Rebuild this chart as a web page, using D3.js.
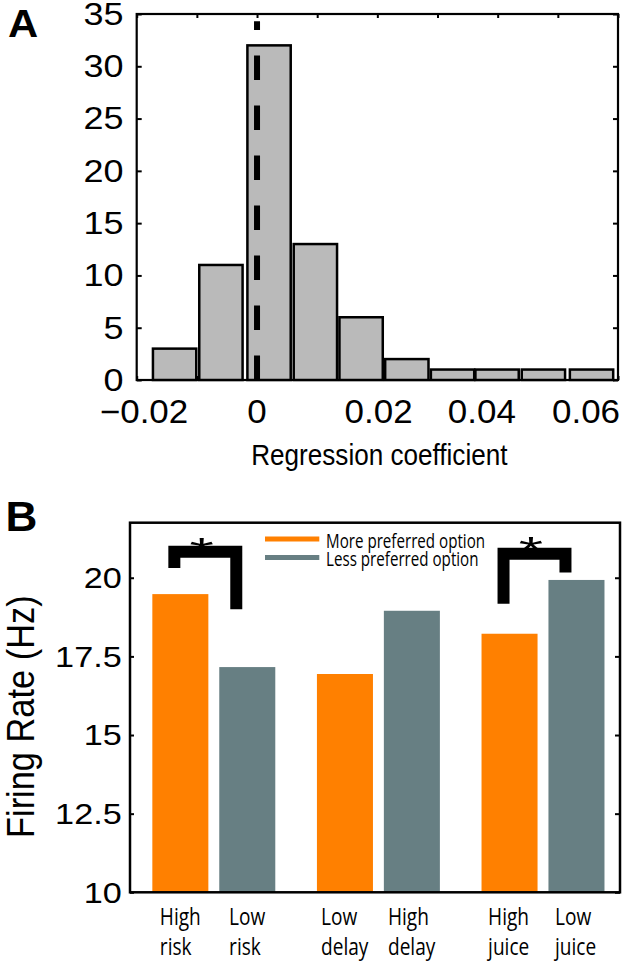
<!DOCTYPE html>
<html><head><meta charset="utf-8">
<script src="https://cdn.jsdelivr.net/npm/d3@7"></script>
<style>html,body{margin:0;padding:0;background:#fff;} svg{display:block;}</style>
</head><body>
<script>
// ---------- Panel A data ----------
const binCenters = [-0.0137, -0.0060, 0.0020, 0.0097, 0.0173, 0.0249, 0.0325, 0.0399, 0.0476, 0.0556];
const binCounts  = [3, 11, 32, 13, 6, 2, 1, 1, 1, 1];
const binWidth   = 0.0077;
const histXTicks = [-0.02, -0.01, 0, 0.01, 0.02, 0.03, 0.04, 0.05, 0.06];
const histXLabelValues = [-0.02, 0, 0.02, 0.04, 0.06];
const histXLabelText   = ["\u22120.02", "0", "0.02", "0.04", "0.06"];
const histYTicks = [0, 5, 10, 15, 20, 25, 30, 35];
const zeroLineRange = [0, 34.3];

// ---------- Panel B data ----------
const groups  = ["risk", "delay", "juice"];
const options = ["more", "less"];
const barLabels = [["High","risk"],["Low","risk"],["Low","delay"],["High","delay"],["High","juice"],["Low","juice"]];
const firingRates = [19.48, 17.16, 16.94, 18.95, 18.22, 19.93];
const rateTicks = [10, 12.5, 15, 17.5, 20];
const rateTickLabels = ["10", "12.5", "15", "17.5", "20"];
const legendLabels = ["More preferred option", "Less preferred option"];
const sigGroups = ["risk", "juice"];
const sigTop    = [20.83, 20.76];
const sigLeftEnd  = [20.31, 19.17];
const sigRightEnd = [19.00, 20.17];
const sigStar     = [21.13, 21.17];

// ---------- styles ----------
const SANS = "'Liberation Sans', Arial, Helvetica, sans-serif";
const COND = "'Open Sans', 'DejaVu Sans', sans-serif";
const ORANGE = "#ff8000", GRAY = "#677f83", HISTFILL = "#bababa";

const svg = d3.select("body").append("svg").attr("width", 630).attr("height", 964)
  .style("background", "#fff");

function label(parent, x, y, str, size, sx, anchor, family, weight) {
  return parent.append("text")
    .attr("transform", `translate(${x},${y}) scale(${sx},1)`)
    .attr("text-anchor", anchor || "start")
    .style("font-family", family || SANS)
    .style("font-weight", weight || "normal")
    .style("font-size", size + "px")
    .attr("fill", "#000")
    .text(str);
}

// ================= Panel A =================
const A = {left: 136.7, right: 618, top: 14, bottom: 380};
const xA = d3.scaleLinear().domain([-0.02, 0.06]).range([A.left, A.right]);
const yA = d3.scaleLinear().domain([0, 35]).range([A.bottom, A.top]);
const gA = svg.append("g");

function tickAxis(g, axis, tx, ty) {
  const a = g.append("g").attr("transform", `translate(${tx},${ty})`).call(axis);
  a.select(".domain").remove();
  a.selectAll("line").attr("stroke", "#000").attr("stroke-width", 2);
  a.selectAll("text").remove();
  return a;
}
tickAxis(gA, d3.axisLeft(yA).tickValues(histYTicks).tickSize(-5), A.left, 0);
tickAxis(gA, d3.axisRight(yA).tickValues(histYTicks).tickSize(-5), A.right, 0);
tickAxis(gA, d3.axisTop(xA).tickValues(histXTicks).tickSize(-4), 0, A.top);
tickAxis(gA, d3.axisBottom(xA).tickValues(histXTicks).tickSize(-4), 0, A.bottom);

gA.append("rect").attr("x", A.left).attr("y", A.top)
  .attr("width", A.right - A.left).attr("height", A.bottom - A.top)
  .attr("fill", "none").attr("stroke", "#000").attr("stroke-width", 2.2);

gA.selectAll("rect.bin").data(binCenters).join("rect").attr("class", "bin")
  .attr("x", d => xA(d - binWidth / 2) + 1.5)
  .attr("width", d => xA(d + binWidth / 2) - xA(d - binWidth / 2) - 3)
  .attr("y", (d, i) => yA(binCounts[i]))
  .attr("height", (d, i) => yA(0) - yA(binCounts[i]))
  .attr("fill", HISTFILL).attr("stroke", "#000").attr("stroke-width", 2.5);

gA.append("line")
  .attr("x1", xA(0)).attr("x2", xA(0))
  .attr("y1", yA(zeroLineRange[0])).attr("y2", yA(zeroLineRange[1]))
  .attr("stroke", "#000").attr("stroke-width", 6)
  .attr("stroke-dasharray", "24.5,25.5");

// y tick labels
histYTicks.forEach(v => label(gA, A.left - 13.2, yA(v) + 10.8, String(v), 30.5, 1.18, "end"));
// x tick labels (as placed in the original figure)
const xLabelNudge = [7.3, 0, 1.3, -15.8, -32];
histXLabelValues.forEach((v, i) => label(gA, xA(v) + xLabelNudge[i], 422.7, histXLabelText[i], 33, 1.06, "middle"));
label(gA, (A.left + A.right) / 2 + 2, 465, "Regression coefficient", 29, 0.9, "middle");
label(gA, 8, 37.3, "A", 38, 1.1, "start", SANS, "bold");

// ================= Panel B =================
const B = {left: 130, right: 620, top: 522.7, bottom: 892.3};
const yB = d3.scaleLinear().domain([10, 21.75]).range([B.bottom, B.top]);
const xG = d3.scaleBand().domain(groups).range([B.left, B.right])
  .paddingInner(0.253).paddingOuter(0.115).align(0.59);
const xO = d3.scaleBand().domain(options).range([0, xG.bandwidth()]).paddingInner(0.163);
const gB = svg.append("g");

const barData = [];
groups.forEach((g, gi) => options.forEach((o, oi) => {
  const i = gi * 2 + oi;
  barData.push({group: g, option: o, value: firingRates[i], label: barLabels[i]});
}));
const cx = d => xG(d.group) + xO(d.option) + xO.bandwidth() / 2;

gB.selectAll("rect.bar").data(barData).join("rect").attr("class", "bar")
  .attr("x", d => xG(d.group) + xO(d.option))
  .attr("width", xO.bandwidth())
  .attr("y", d => yB(d.value))
  .attr("height", d => yB(10) - yB(d.value))
  .attr("fill", d => d.option === "more" ? ORANGE : GRAY);

tickAxis(gB, d3.axisLeft(yB).tickValues(rateTicks).tickSize(-4), B.left, 0);
tickAxis(gB, d3.axisRight(yB).tickValues(rateTicks).tickSize(-5), B.right, 0);
gB.append("rect").attr("x", B.left).attr("y", B.top)
  .attr("width", B.right - B.left).attr("height", B.bottom - B.top)
  .attr("fill", "none").attr("stroke", "#000").attr("stroke-width", 2.5);

rateTicks.forEach((v, i) => label(gB, B.left - 8.3, yB(v) + 10.4, rateTickLabels[i], 29, 1.18, "end"));

// y axis title
gB.append("text")
  .attr("transform", `translate(34,716.7) scale(1.15,1) rotate(-90)`)
  .attr("text-anchor", "middle")
  .style("font-family", SANS).style("font-size", "34.4px")
  .text("Firing Rate (Hz)");

// category labels
barData.forEach(d => {
  const t = gB.append("text").style("font-family", COND).style("font-size", "23px");
  d.label.forEach((s, k) => t.append("tspan").attr("x", 0).attr("y", k * 30).text(s));
  const w = t.node().getBBox().width * 0.83;
  t.attr("transform", `translate(${cx(d) - w / 2},925) scale(0.83,1)`);
});

// legend
const legY = [539, 557.5];
[ORANGE, GRAY].forEach((c, i) => {
  gB.append("line").attr("x1", 265).attr("x2", 319.3).attr("y1", legY[i]).attr("y2", legY[i])
    .attr("stroke", c).attr("stroke-width", 5);
  label(gB, 326, legY[i] + 8.7, legendLabels[i], 20.5, 0.74, "start", COND);
});

// significance brackets
sigGroups.forEach((g, i) => {
  const xl = xG(g) + xO("more") + xO.bandwidth() / 2 - 6;
  const xr = xG(g) + xO("less") + xO.bandwidth() / 2 - 11;
  const p = d3.path();
  p.moveTo(xl, yB(sigLeftEnd[i]));
  p.lineTo(xl, yB(sigTop[i]));
  p.lineTo(xr, yB(sigTop[i]));
  p.lineTo(xr, yB(sigRightEnd[i]));
  gB.append("path").attr("d", p.toString()).attr("fill", "none")
    .attr("stroke", "#000").attr("stroke-width", 12)
    .attr("stroke-linejoin", "miter").attr("stroke-linecap", "butt");
  label(gB, (xl + xr) / 2 - 3.6, yB(sigStar[i]) + 22.6, "*", 39, 1.6, "middle");
});
label(gB, 5.5, 531, "B", 42, 1.05, "start", SANS, "bold");
</script>
</body></html>
